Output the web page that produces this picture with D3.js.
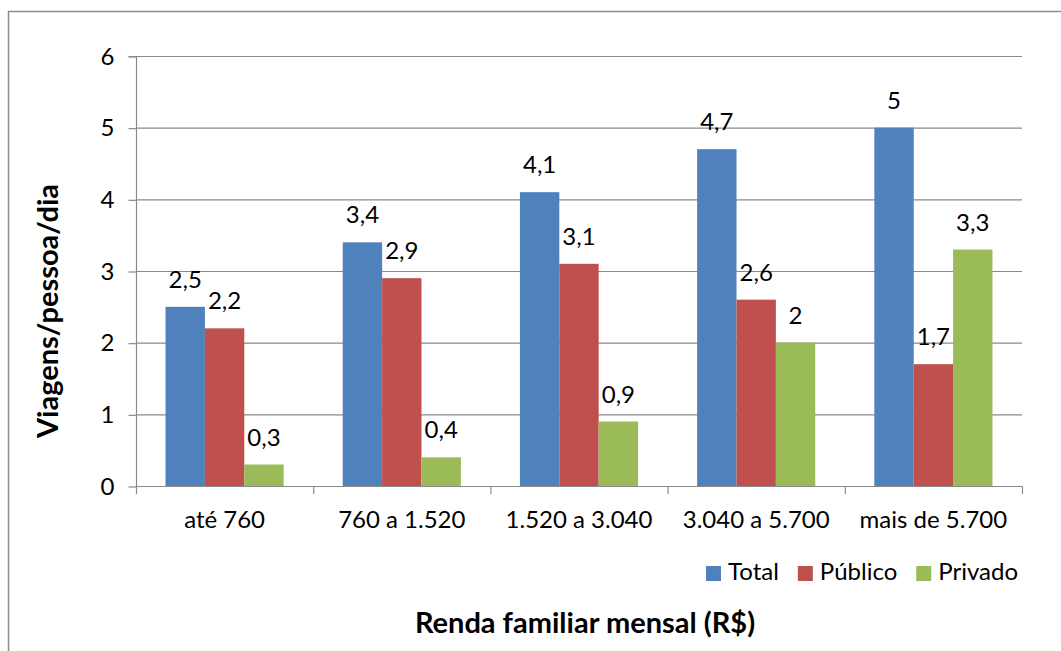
<!DOCTYPE html>
<html>
<head>
<meta charset="utf-8">
<script src="https://cdn.jsdelivr.net/npm/d3@7"></script>
<style>
  html, body { margin: 0; padding: 0; background: #fff; }
  svg { display: block; font-family: Lato, "Open Sans", sans-serif; }
</style>
</head>
<body>
<svg id="chart" width="1061" height="651"></svg>
<script>
const categories = ["até 760", "760 a 1.520", "1.520 a 3.040", "3.040 a 5.700", "mais de 5.700"];
const seriesNames = ["Total", "Público", "Privado"];
const totalValues = [2.5, 3.4, 4.1, 4.7, 5];
const publicoValues = [2.2, 2.9, 3.1, 2.6, 1.7];
const privadoValues = [0.3, 0.4, 0.9, 2, 3.3];
const yTicks = [0, 1, 2, 3, 4, 5, 6];
const colors = ["#4F81BD", "#C0504D", "#9BBB59"];
const yTitle = "Viagens/pessoa/dia";
const xTitle = "Renda familiar mensal (R$)";

const seriesValues = [totalValues, publicoValues, privadoValues];
const svg = d3.select("#chart");
const margin = {left: 136, right: 1022, top: 56, bottom: 486};
const fs = 24;

// outer border
svg.append("rect").attr("x", 8.5).attr("y", 11.5).attr("width", 1100).attr("height", 700)
  .attr("fill", "none").attr("stroke", "#8c8c8c").attr("stroke-width", 1.5);

const x0 = d3.scaleBand().domain(categories).range([margin.left, margin.right])
  .paddingInner(1/3).paddingOuter(1/6);
const x1 = d3.scaleBand().domain(seriesNames).range([0, x0.bandwidth()]);
const y = d3.scaleLinear().domain([0, 6]).range([margin.bottom, margin.top]);

// gridlines
svg.append("g").selectAll("line").data(yTicks.filter(d => d > 0)).join("line")
  .attr("x1", margin.left).attr("x2", margin.right)
  .attr("y1", d => y(d) + 0.5).attr("y2", d => y(d) + 0.5)
  .attr("stroke", "#8a8a8a").attr("stroke-width", 1.2);

// y axis
const yAxis = d3.axisLeft(y).tickValues(yTicks).tickSize(8).tickPadding(14).tickFormat(d3.format("d"));
const gy = svg.append("g").attr("transform", `translate(${margin.left + 0.5},0.5)`).call(yAxis);
gy.select(".domain").attr("stroke", "#8a8a8a").attr("stroke-width", 1.2).attr("d", `M-8,${y(6)}H0V${y(0)}`);
gy.selectAll(".tick line").attr("stroke", "#8a8a8a").attr("stroke-width", 1.2);
gy.selectAll(".tick text").attr("font-size", fs).attr("fill", "#000").attr("font-family", "Lato");

// x axis with boundary ticks
const boundaries = d3.range(categories.length + 1).map(i => margin.left + i * x0.step());
const gx = svg.append("g");
gx.append("line").attr("x1", margin.left).attr("x2", margin.right)
  .attr("y1", y(0) + 0.5).attr("y2", y(0) + 0.5).attr("stroke", "#8a8a8a").attr("stroke-width", 1.2);
gx.selectAll("line.tk").data(boundaries).join("line").attr("class", "tk")
  .attr("x1", d => d + 0.5).attr("x2", d => d + 0.5)
  .attr("y1", y(0)).attr("y2", y(0) + 8).attr("stroke", "#8a8a8a").attr("stroke-width", 1.2);
gx.selectAll("text").data(categories).join("text")
  .attr("x", d => x0(d) + x0.bandwidth() / 2).attr("y", 528)
  .attr("text-anchor", "middle").attr("font-size", fs).attr("fill", "#000").text(d => d);

// bars
const groups = svg.append("g").selectAll("g").data(categories).join("g")
  .attr("transform", d => `translate(${x0(d)},0)`);
groups.selectAll("rect").data((c, i) => seriesNames.map((s, j) => ({s, j, v: seriesValues[j][i]})))
  .join("rect")
  .attr("x", d => x1(d.s)).attr("width", x1.bandwidth())
  .attr("y", d => y(d.v)).attr("height", d => y(0) - y(d.v))
  .attr("fill", d => colors[d.j]);
groups.selectAll("text").data((c, i) => seriesNames.map((s, j) => ({s, j, v: seriesValues[j][i]})))
  .join("text")
  .attr("x", d => x1(d.s) + x1.bandwidth() / 2).attr("y", d => y(d.v) - 19)
  .attr("text-anchor", "middle").attr("font-size", fs).attr("fill", "#000")
  .text(d => String(d.v).replace(".", ","));

// legend
const leg = svg.append("g");
let lx = 706;
seriesNames.forEach((s, i) => {
  leg.append("rect").attr("x", lx).attr("y", 566).attr("width", 15).attr("height", 15).attr("fill", colors[i]);
  const t = leg.append("text").attr("x", lx + 22).attr("y", 580).attr("font-size", fs).attr("fill", "#000").text(s);
  lx = lx + 22 + t.node().getComputedTextLength() + 19;
});

// axis titles
svg.append("text").attr("transform", `translate(58,${(margin.top + margin.bottom) / 2 + 40}) rotate(-90)`)
  .attr("text-anchor", "middle").attr("font-size", 29).attr("font-weight", "bold").attr("fill", "#000").text(yTitle);
svg.append("text").attr("x", 585).attr("y", 633)
  .attr("text-anchor", "middle").attr("font-size", 29).attr("font-weight", "bold").attr("fill", "#000").text(xTitle);
</script>
</body>
</html>
